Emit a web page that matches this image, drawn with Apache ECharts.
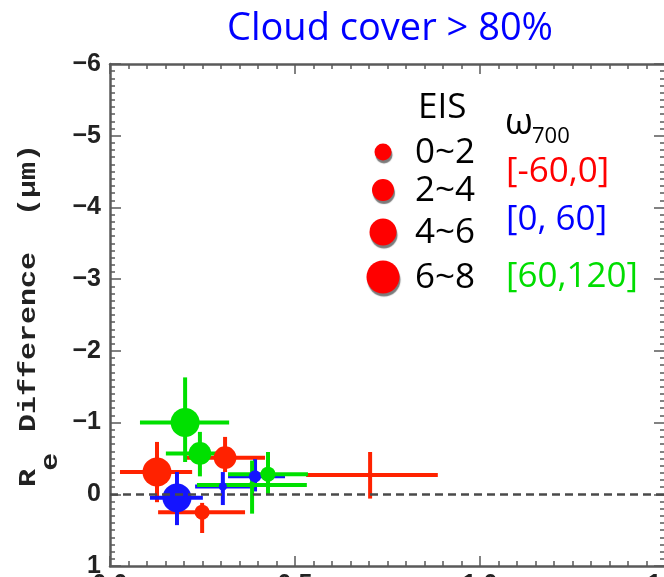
<!DOCTYPE html>
<html>
<head>
<meta charset="utf-8">
<script src="https://cdn.jsdelivr.net/npm/echarts@6/dist/echarts.min.js"></script>
<style>
  html, body { margin: 0; padding: 0; background: #fff; }
  #chart { width: 664px; height: 577px; }
</style>
</head>
<body>
<div id="chart"></div>
<script>
// Re difference vs. x, grouped by omega700 regime, marker size by EIS
const groupNames = ['[-60,0]', '[0, 60]', '[60,120]'];
const groupColors = ['#ff2200', '#1414ff', '#00e000'];
const groupTextColors = ['#ff0000', '#0000ff', '#00dd00'];

const ptGroup = [0, 0, 0, 0, 1, 1, 1, 2, 2, 2, 2];
const ptX   = [0.127, 0.311, 0.249, 0.703, 0.181, 0.305, 0.392, 0.203, 0.243, 0.384, 0.427];
const ptXLo = [0.027, 0.208, 0.130, 0.530, 0.108, 0.230, 0.319, 0.081, 0.151, 0.235, 0.319];
const ptXHi = [0.222, 0.419, 0.365, 0.886, 0.251, 0.389, 0.473, 0.322, 0.332, 0.532, 0.535];
const ptY   = [-0.31, -0.51, 0.25, -0.27, 0.05, -0.11, -0.25, -1.00, -0.57, -0.13, -0.28];
const ptYLo = [-0.73, -0.80, 0.12, -0.59, -0.31, -0.31, -0.49, -1.63, -0.87, -0.47, -0.59];
const ptYHi = [0.11, -0.31, 0.54, 0.06, 0.43, 0.15, -0.04, -0.45, -0.25, 0.27, 0.00];
const ptEIS = [6.9, 5.4, 3.6, 1.3, 6.9, 1.9, 2.9, 6.9, 5.4, 1.5, 3.6];

const eisBins = ['0~2', '2~4', '4~6', '6~8'];
const xTicks = [0, 0.5, 1.0, 1.5];
const yTicks = [-6, -5, -4, -3, -2, -1, 0, 1];

const axisColor = '#5a5a5a';
const eisToSize = e => e * 4.2;

function rowsFor(g) {
  const rows = [];
  ptGroup.forEach((gi, i) => {
    if (gi === g) rows.push([ptX[i], ptY[i], ptXLo[i], ptXHi[i], ptYLo[i], ptYHi[i], ptEIS[i]]);
  });
  return rows;
}

function errorBars(color) {
  return function (params, api) {
    const c = api.coord([api.value(0), api.value(1)]);
    const xl = api.coord([api.value(2), api.value(1)]);
    const xh = api.coord([api.value(3), api.value(1)]);
    const yl = api.coord([api.value(0), api.value(4)]);
    const yh = api.coord([api.value(0), api.value(5)]);
    const st = { stroke: color, lineWidth: 4 };
    return {
      type: 'group',
      children: [
        { type: 'line', shape: { x1: xl[0], y1: c[1], x2: xh[0], y2: c[1] }, style: st },
        { type: 'line', shape: { x1: c[0], y1: yl[1], x2: c[0], y2: yh[1] }, style: st }
      ]
    };
  };
}

const series = [{
  type: 'line', data: [], z: 1, silent: true,
  markLine: {
    silent: true, symbol: 'none', label: { show: false },
    lineStyle: { color: '#4a4a4a', width: 2.5, type: [8, 5] },
    data: [{ yAxis: 0 }]
  }
}];
groupNames.forEach((name, g) => {
  const rows = rowsFor(g);
  series.push({
    type: 'custom', name: name, data: rows, z: 2,
    renderItem: errorBars(groupColors[g]),
    encode: { x: [0, 2, 3], y: [1, 4, 5] }
  });
  series.push({
    type: 'scatter', name: name, data: rows, z: 2,
    symbol: 'circle',
    symbolSize: v => eisToSize(v[6]),
    itemStyle: { color: groupColors[g], opacity: 1 },
    encode: { x: 0, y: 1 }
  });
});

function xAxisDef(pos, labels) {
  return {
    type: 'value', position: pos, min: xTicks[0], max: xTicks[xTicks.length - 1], interval: 0.5,
    axisLine: { show: true, onZero: false, lineStyle: { color: axisColor, width: 2.5 } },
    axisTick: { show: true, inside: true, length: 10, lineStyle: { color: axisColor, width: 1.5 } },
    minorTick: { show: true, splitNumber: 10, length: 5, lineStyle: { color: axisColor, width: 1.5 } },
    splitLine: { show: false },
    axisLabel: {
      show: labels, margin: 7, color: '#222', fontSize: 25, fontWeight: 'bold',
      fontFamily: 'Liberation Sans', formatter: v => v.toFixed(1)
    }
  };
}
function yAxisDef(pos, labels) {
  return {
    type: 'value', position: pos, min: yTicks[0], max: yTicks[yTicks.length - 1], interval: 1,
    inverse: true,
    axisLine: { show: true, onZero: false, lineStyle: { color: axisColor, width: 2.5 } },
    axisTick: { show: true, inside: true, length: 11, lineStyle: { color: axisColor, width: 1.5 } },
    minorTick: { show: true, splitNumber: 10, length: 5, lineStyle: { color: axisColor, width: 1.5 } },
    splitLine: { show: false },
    axisLabel: {
      show: labels, margin: 9, color: '#222', fontSize: 25, fontWeight: 'bold',
      fontFamily: 'Liberation Sans',
      formatter: v => (v < 0 ? '\u2212' + Math.abs(v) : String(v))
    }
  };
}

const legendFont = '"Open Sans", "Noto Sans", sans-serif';
const monoStyle = { fontFamily: 'Liberation Mono', fontWeight: 'bold', fontSize: 24, fill: '#222', align: 'left', verticalAlign: 'middle' };
const graphics = [];

// rotated y-axis title: R subscript e, then the rest
graphics.push({
  type: 'group', x: 29, y: 487, rotation: Math.PI / 2, scaleX: 1.25,
  children: [
    { type: 'text', x: 0, y: 0, style: Object.assign({ text: 'R' }, monoStyle) },
    { type: 'text', x: 13, y: 22, style: Object.assign({ text: 'e' }, monoStyle) },
    { type: 'text', x: 44, y: 0, style: Object.assign({ text: 'Difference  (\u03bcm)' }, monoStyle) }
  ]
});

// EIS size key
const keyY = [152, 190, 232, 277];
const keyR = [8.5, 11, 13.5, 16.5];
graphics.push({ type: 'text', x: 418, y: 108, style: { text: 'EIS', fontFamily: legendFont, fontSize: 35, fill: '#000', align: 'left', verticalAlign: 'middle' } });
eisBins.forEach((lab, i) => {
  graphics.push({
    type: 'circle', shape: { cx: 383, cy: keyY[i], r: keyR[i] },
    style: { fill: '#ff0000', shadowColor: 'rgba(90,90,90,0.8)', shadowOffsetX: 1, shadowOffsetY: 3, shadowBlur: 1 }
  });
  graphics.push({ type: 'text', x: 415, y: keyY[i] + 1, style: { text: lab, fontFamily: legendFont, fontSize: 35, fill: '#000', align: 'left', verticalAlign: 'middle' } });
});

// omega700 key
graphics.push({ type: 'text', x: 505, y: 124, style: { text: '\u03c9', fontFamily: legendFont, fontSize: 36, fill: '#000', align: 'left', verticalAlign: 'middle' } });
graphics.push({ type: 'text', x: 532, y: 137, style: { text: '700', fontFamily: legendFont, fontSize: 22, fill: '#000', align: 'left', verticalAlign: 'middle' } });
const omegaY = [172, 220, 277];
groupNames.forEach((lab, g) => {
  graphics.push({ type: 'text', x: 506, y: omegaY[g], style: { text: lab, fontFamily: legendFont, fontSize: 35, fill: groupTextColors[g], align: 'left', verticalAlign: 'middle' } });
});

const chart = echarts.init(document.getElementById('chart'), null, { renderer: 'canvas' });
chart.setOption({
  backgroundColor: '#fff',
  animation: false,
  title: {
    text: 'Cloud cover > 80%', left: 385, top: 5, textAlign: 'center',
    textStyle: { color: '#0000ff', fontSize: 38, fontWeight: 'normal', fontFamily: legendFont }
  },
  grid: { left: 110, top: 64, width: 555, height: 502, containLabel: false, outerBoundsMode: 'none' },
  xAxis: [xAxisDef('bottom', true), xAxisDef('top', false)],
  yAxis: [yAxisDef('left', true), yAxisDef('right', false)],
  series: series,
  graphic: graphics
});
</script>
</body>
</html>
